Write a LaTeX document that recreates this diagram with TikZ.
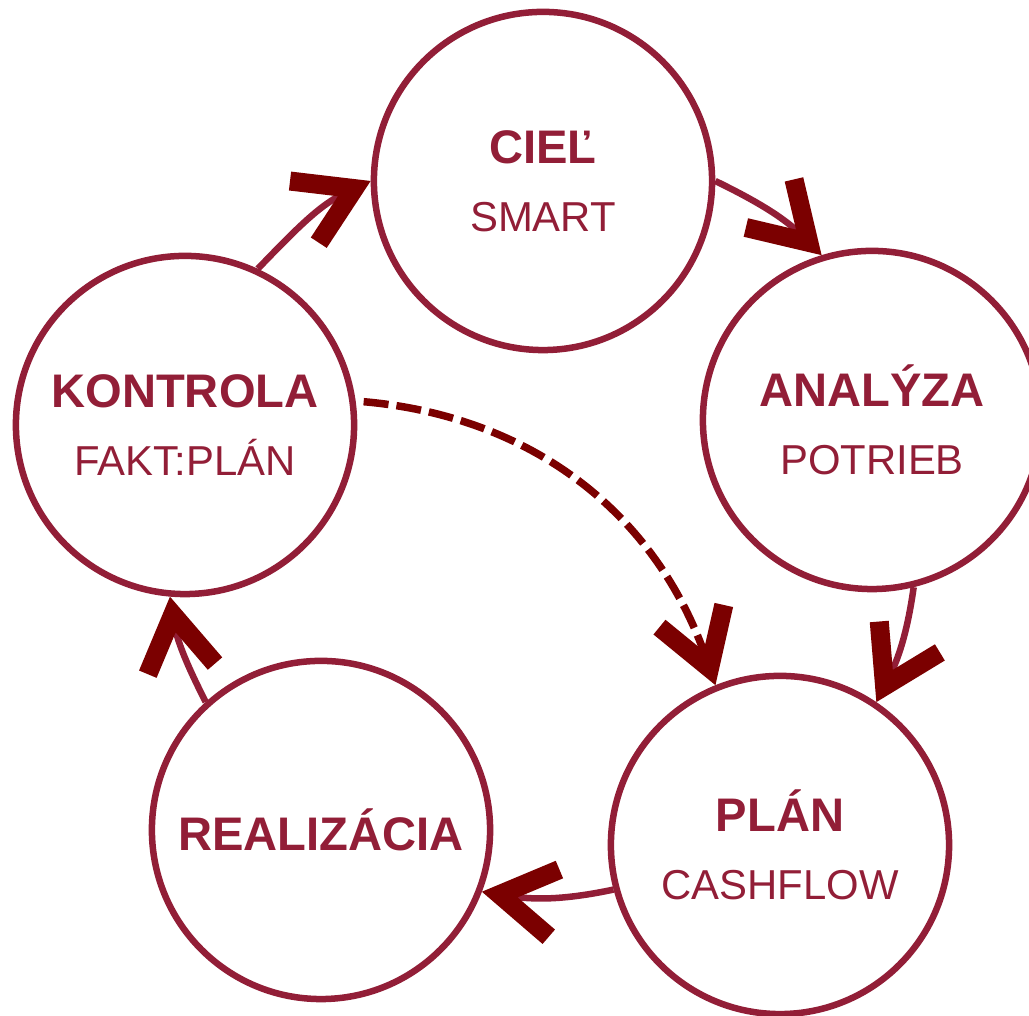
\documentclass[tikz,border=0pt]{standalone}
\usepackage{fontspec}
\setmainfont{Liberation Sans}
\usepackage{tikz}
\usetikzlibrary{arrows.meta}
\definecolor{burgundy}{RGB}{146,30,55}
\definecolor{darkmaroon}{RGB}{123,0,0}
\tikzstyle{phasecircle}=[circle, draw=burgundy, line width=0.065cm, minimum size=3.38cm, inner sep=0pt, text=burgundy, align=center, font=\fontsize{11.9}{19.4}\selectfont]
\tikzstyle{cyc}=[draw=burgundy, line width=0.065cm, -{Straight Barb[length=0.55cm, width=0.68cm, line width=0.19cm, color=darkmaroon]}]
\tikzstyle{loopback}=[draw=darkmaroon, line width=0.075cm, dash pattern=on 0.25cm off 0.08cm, shorten <=0.08cm, -{Straight Barb[length=0.55cm, width=0.68cm, line width=0.19cm, color=darkmaroon]}]
\newcommand{\phasetitle}[1]{{\fontsize{13.4}{19.4}\selectfont\bfseries #1}}

\begin{document}
\begin{tikzpicture}[x=0.01cm, y=0.01cm]
\useasboundingbox (0,0) rectangle (1029,1016);

\node[phasecircle](ciel) at (543,835){\phasetitle{CIEĽ}\\SMART};
\node[phasecircle](analyza) at (872,596){\phasetitle{ANALÝZA}\\POTRIEB};
\node[phasecircle](plan) at (780,171){\phasetitle{PLÁN}\\CASHFLOW};
\node[phasecircle](realizacia) at (321,186){\phasetitle{REALIZÁCIA}};
\node[phasecircle](kontrola) at (185,591){\phasetitle{KONTROLA}\\FAKT:PLÁN};

% cycle
\path[cyc] (kontrola.65) to[out=46, in=205] (ciel.180);
\path[cyc] (ciel.0) to[out=-26, in=135] (analyza.107);
\path[cyc] (analyza.-76) to[out=-98, in=63] (plan.56);
\path[cyc] (plan.195) to[out=-168, in=-9] (realizacia.-21);
\path[cyc] (realizacia.132) to[out=117, in=279] (kontrola.265);
% back to plan
\path[loopback] (kontrola.8) to[out=-5, in=109] (plan.112);

\end{tikzpicture}
\end{document}
